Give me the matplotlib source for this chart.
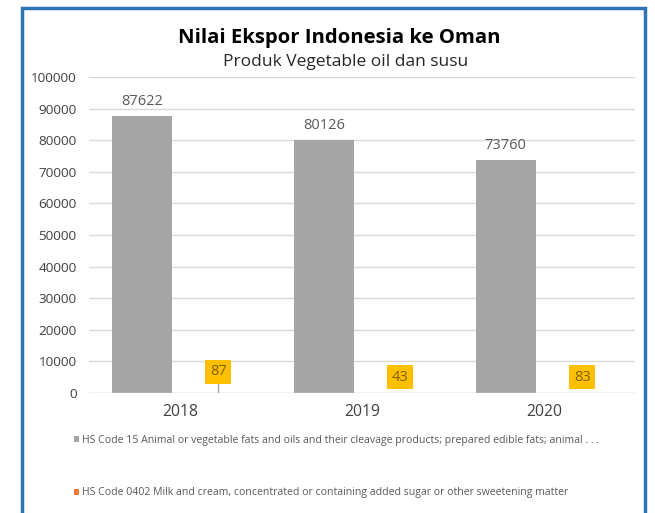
import matplotlib.pyplot as plt
import numpy as np
from matplotlib.patches import Rectangle

years = ["2018", "2019", "2020"]
hs15 = [87622, 80126, 73760]
hs0402 = [87, 43, 83]
legend_labels = [
    "HS Code 15 Animal or vegetable fats and oils and their cleavage products; prepared edible fats; animal . . .",
    "HS Code 0402 Milk and cream, concentrated or containing added sugar or other sweetening matter",
]
yticks = list(range(0, 100001, 10000))

plt.rcParams['font.family'] = ['Open Sans', 'DejaVu Sans']

fig = plt.figure(figsize=(6.55, 5.13), dpi=100)
fig.patch.set_facecolor("white")
fig.add_artist(Rectangle((22 / 655, -0.02), 623 / 655, 1 - 8 / 513 + 0.02,
                         transform=fig.transFigure, fill=False,
                         edgecolor="#2E75B6", linewidth=2.5))

ax = fig.add_axes([89 / 655, 1 - 393 / 513, (635 - 89) / 655, (393 - 77) / 513])

x = np.arange(len(years))
w = 0.33
off = 0.21
ax.bar(x - off, hs15, w, color="#A5A5A5", label=legend_labels[0])
ax.bar(x + off, hs0402, w, color="#ED7D31", label=legend_labels[1])

for i, v in enumerate(hs15):
    ax.text(x[i] - off, v + 4500, str(v), ha="center", va="center",
            fontsize=10.5, color="#595959")

label_y = [6700, 5000, 5000]
for i, v in enumerate(hs0402):
    ax.text(x[i] + off, label_y[i], str(v), ha="center", va="center",
            fontsize=10.5, color="#7F6000",
            bbox=dict(boxstyle="square,pad=0.3", fc="#FFC000", ec="none"))
ax.plot([x[0] + off, x[0] + off], [0, 3200], color="#A5A5A5", lw=1, zorder=1)

ax.set_xlim(-0.5, 2.5)
ax.set_ylim(0, 100000)
ax.set_yticks(yticks)
ax.set_yticklabels([str(t) for t in yticks], fontsize=9.7, color="#404040")
ax.tick_params(length=0, pad=9)
ax.set_xticks(x)
ax.set_xticklabels(years, fontsize=11.3, color="#404040")
ax.tick_params(axis="x", pad=8)
ax.grid(axis="y", color="#D9D9D9", lw=1)
ax.set_axisbelow(True)
for s in ax.spines.values():
    s.set_visible(False)
ax.axhline(0, color="#D9D9D9", lw=1)

fig.text(339 / 655, 1 - 38 / 513, "Nilai Ekspor Indonesia ke Oman",
         ha="center", va="center", fontsize=14.6, fontweight="bold", color="black")
fig.text(346 / 655, 1 - 62 / 513, "Produk Vegetable oil dan susu",
         ha="center", va="center", fontsize=12.5, color="#262626")

fig.legend(handles=ax.patches[:1], labels=[legend_labels[0]],
           loc="center left", bbox_to_anchor=(64 / 655, 1 - 440 / 513),
           frameon=False, fontsize=7.6, handlelength=0.5, handleheight=0.5,
           handletextpad=0.3, labelcolor="#595959")
fig.legend(handles=[ax.patches[3]], labels=[legend_labels[1]],
           loc="center left", bbox_to_anchor=(64 / 655, 1 - 493 / 513),
           frameon=False, fontsize=7.6, handlelength=0.5, handleheight=0.5,
           handletextpad=0.3, labelcolor="#595959")

fig.savefig("out.png", dpi=100)
